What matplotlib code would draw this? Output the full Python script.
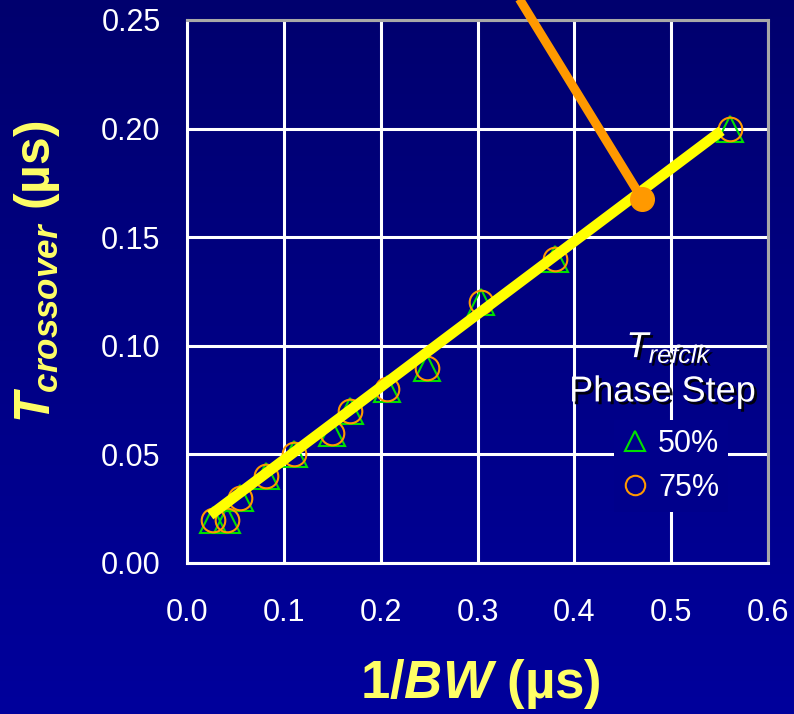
import numpy as np
import matplotlib
matplotlib.use("Agg")
import matplotlib.pyplot as plt
import matplotlib.patheffects as pe
from matplotlib.colors import LinearSegmentedColormap
from matplotlib.lines import Line2D

plt.rcParams['font.family'] = ['Liberation Sans', 'DejaVu Sans']
plt.rcParams['mathtext.fontset'] = 'custom'
plt.rcParams['mathtext.rm'] = 'Liberation Sans:bold'
plt.rcParams['mathtext.it'] = 'Liberation Sans:bold:italic'
plt.rcParams['mathtext.sf'] = 'Liberation Sans:italic'

# measured points (1/BW vs crossover time), both phase steps at the same spots
inv_bw = [0.027, 0.041, 0.055, 0.082, 0.110, 0.150, 0.168, 0.207, 0.248, 0.304, 0.380, 0.561]
t_50 = [0.020, 0.020, 0.030, 0.040, 0.050, 0.060, 0.070, 0.080, 0.090, 0.120, 0.140, 0.200]
t_75 = [0.020, 0.020, 0.030, 0.040, 0.050, 0.060, 0.070, 0.080, 0.090, 0.120, 0.140, 0.200]

# linear fit drawn in yellow
fit_x = [0.024, 0.552]
fit_y = [0.022, 0.199]

# orange pointer line
ptr_x = [0.470, 0.340]
ptr_y = [0.1676, 0.262]

xticks = [0.0, 0.1, 0.2, 0.3, 0.4, 0.5, 0.6]
yticks = [0.00, 0.05, 0.10, 0.15, 0.20, 0.25]

fig = plt.figure(figsize=(7.94, 7.14), dpi=100)

# gradient background
bg = fig.add_axes([0, 0, 1, 1], zorder=-10)
cmap = LinearSegmentedColormap.from_list("bg", ["#00006e", "#00009c"])
bg.imshow(np.linspace(0, 1, 256).reshape(-1, 1), aspect='auto', cmap=cmap,
          extent=[0, 1, 0, 1])
bg.set_axis_off()

ax = fig.add_axes([0.2355, 0.2115, 0.7318, 0.7605])
ax.set_facecolor('none')

ax.plot(inv_bw, t_50, linestyle='none', marker='^', markersize=18.5,
        markerfacecolor='none', markeredgecolor='#00e000', markeredgewidth=1.5, zorder=3)
ax.plot(inv_bw, t_75, linestyle='none', marker='o', markersize=17,
        markerfacecolor='none', markeredgecolor='#ff9900', markeredgewidth=1.5, zorder=3)
ax.plot(fit_x, fit_y, color='#ffff00', linewidth=7.5, solid_capstyle='butt', zorder=4)
ax.plot(ptr_x, ptr_y, color='#ff9900', linewidth=6.5, solid_capstyle='butt',
        clip_on=False, zorder=5)
ax.plot(ptr_x[:1], ptr_y[:1], marker='o', markersize=17, color='#ff9900',
        linestyle='none', clip_on=False, zorder=6)

ax.set_xlim(0, 0.6)
ax.set_ylim(0, 0.25)
ax.set_xticks(xticks)
ax.set_yticks(yticks)
ax.set_xticklabels([f"{v:.1f}" for v in xticks])
ax.set_yticklabels([f"{v:.2f}" for v in yticks])
ax.tick_params(axis='both', length=0, colors='white', labelsize=22)
ax.tick_params(axis='x', pad=25)
ax.tick_params(axis='y', pad=19)
ax.grid(True, color='white', linewidth=2.2, zorder=1)
ax.set_axisbelow(True)
for side in ['left', 'bottom']:
    ax.spines[side].set_color('white')
    ax.spines[side].set_linewidth(2.2)
for side in ['top', 'right']:
    ax.spines[side].set_color('#a8a8a8')
    ax.spines[side].set_linewidth(2.2)

# legend entries with a background box, title drawn separately with shadow
handles = [
    Line2D([], [], linestyle='none', marker='^', markersize=15,
           markerfacecolor='none', markeredgecolor='#00e000', markeredgewidth=1.5),
    Line2D([], [], linestyle='none', marker='o', markersize=14,
           markerfacecolor='none', markeredgecolor='#ff9900', markeredgewidth=1.5),
]
leg = ax.legend(handles, ['50%', '75%'], loc='center', bbox_to_anchor=(0.833, 0.179),
                frameon=True, facecolor='#00008b', edgecolor='none', framealpha=1,
                fancybox=False, fontsize=22, labelcolor='white', handlelength=0.8,
                handletextpad=0.35, labelspacing=0.46, borderpad=0.3)
leg.set_zorder(7)

shadow = [pe.withSimplePatchShadow(offset=(2, -2), shadow_rgbFace='black', alpha=0.9)]
ax.text(0.83, 0.379, r'$\mathsf{T}_{\mathsf{refclk}}$', transform=ax.transAxes,
        ha='center', va='baseline', fontsize=26, color='white',
        path_effects=shadow, zorder=8)
ax.text(0.818, 0.315, 'Phase Step', transform=ax.transAxes, ha='center', va='center',
        fontsize=26, color='white', path_effects=shadow, zorder=8)

fig.text(480 / 794, 1 - 684 / 714, r'1/$BW$ (µs)', ha='center', va='center',
         fontsize=38, fontweight='bold', color='#ffff66')
fig.text(37 / 794, 1 - 272 / 714, r'$T_{crossover}$ (µs)', ha='center', va='center',
         rotation=90, fontsize=36, fontweight='bold', color='#ffff66')

fig.savefig("out.png", dpi=100)
